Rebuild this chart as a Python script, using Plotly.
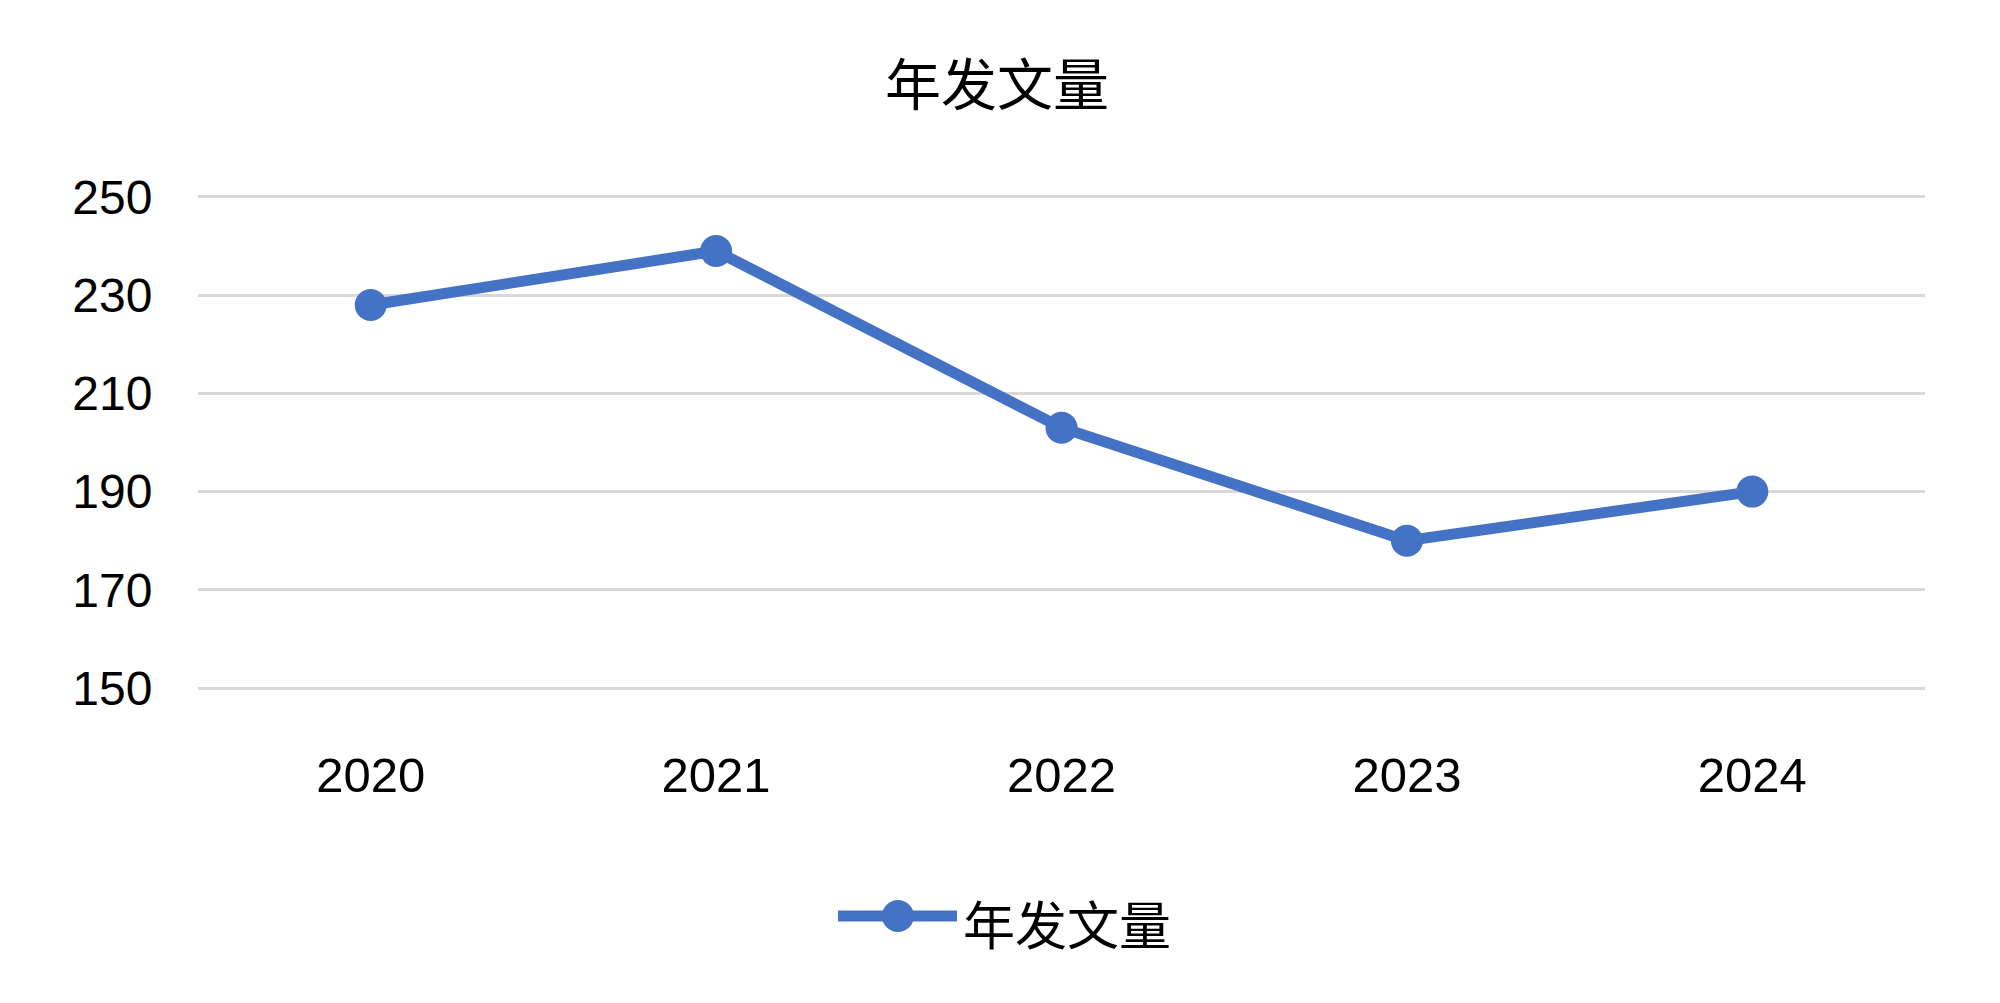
import plotly.graph_objects as go

# data
years = ['2020', '2021', '2022', '2023', '2024']
papers = [228, 239, 203, 180, 190]
y_ticks = [150, 170, 190, 210, 230, 250]
series_name = '年发文量'

blue = '#4472C4'
font_fam = 'Liberation Sans, Arial, Noto Sans CJK SC'
cjk = 'Noto Sans CJK SC'

fig = go.Figure()
fig.add_trace(go.Scatter(
    x=years, y=papers, name=series_name, mode='lines+markers',
    line=dict(color=blue, width=11),
    marker=dict(color=blue, size=32),
    showlegend=False,
))

# page body has an 8px margin, so the figure box is offset by 8px
fig.update_layout(
    width=2000, height=1003,
    paper_bgcolor='white', plot_bgcolor='white',
    margin=dict(l=190, r=83, t=187, b=321),
    font=dict(family=font_fam, color='black', size=48),
    title=dict(text=series_name, x=0.4945, xanchor='center', y=0.923, yanchor='middle',
               font=dict(family=cjk, size=56, color='black')),
    showlegend=False,
)

# hand-drawn legend (wide line sample with a big dot, like the original)
leg_y = -0.4566
fig.add_shape(type='line', xref='paper', yref='paper', x0=0.3706, x1=0.4395,
              y0=leg_y, y1=leg_y, line=dict(color=blue, width=11))
fig.add_shape(type='circle', xref='paper', yref='paper', xsizemode='pixel', ysizemode='pixel',
              xanchor=0.4053, yanchor=leg_y, x0=-16, x1=16, y0=-16, y1=16,
              fillcolor=blue, line=dict(color=blue, width=0))
fig.add_annotation(text=series_name, xref='paper', yref='paper', x=0.4418, y=-0.4687,
                   xanchor='left', yanchor='middle', showarrow=False,
                   font=dict(family=cjk, size=52, color='black'))

fig.update_xaxes(type='category', range=[-0.5, 4.5], showgrid=False, showline=False,
                 ticks='outside', ticklen=42, tickcolor='rgba(0,0,0,0)', tickfont=dict(size=49))
fig.update_yaxes(range=[149.6, 250.4], tickvals=y_ticks, showgrid=True, gridcolor='#D9D9D9',
                 gridwidth=3, zeroline=False, showline=False,
                 ticks='outside', ticklen=35, tickcolor='rgba(0,0,0,0)', tickfont=dict(size=48))

fig.write_html('out.html')
